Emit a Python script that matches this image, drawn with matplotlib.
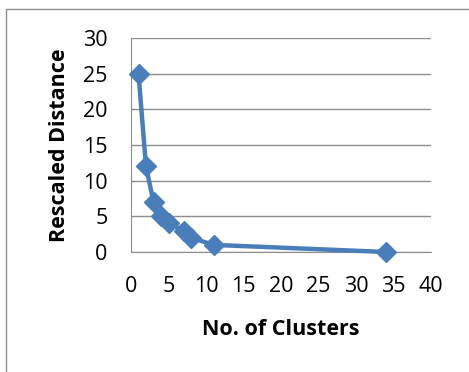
import matplotlib.pyplot as plt
from matplotlib.patches import Rectangle

# number of clusters vs rescaled distance (elbow)
clusters = [1, 2, 3, 4, 5, 7, 8, 11, 34]
distance = [25, 12, 7, 5, 4, 3, 2, 1, 0]
xticks = [0, 5, 10, 15, 20, 25, 30, 35, 40]
yticks = [0, 5, 10, 15, 20, 25, 30]

plt.rcParams['font.family'] = ['Open Sans', 'DejaVu Sans']

fig = plt.figure(figsize=(4.69, 3.72), dpi=100)
# outer chart frame (runs off the right and bottom edge)
fig.patches.append(Rectangle((6/469, -0.05), 1.2, 1 - 9/372 + 0.05,
                             transform=fig.transFigure, fill=False,
                             edgecolor='#8c8c8c', linewidth=1.0))

ax = fig.add_axes([131/469, 1 - 252/372, 300/469, 214/372])
ax.plot(clusters, distance, color='#4a7ebb', linewidth=3.2,
        marker='D', markersize=10, clip_on=False, zorder=3)

ax.set_xlim(0, 40)
ax.set_ylim(0, 30)
ax.set_xticks(xticks)
ax.set_yticks(yticks)
ax.grid(axis='y', color='#8c8c8c', linewidth=1.0)
ax.set_axisbelow(True)
for s in ['top', 'right']:
    ax.spines[s].set_visible(False)
for s in ['left', 'bottom']:
    ax.spines[s].set_color('#8c8c8c')
ax.tick_params(length=0, labelsize=15.5)
ax.tick_params(axis='x', pad=17)
ax.tick_params(axis='y', pad=17)

ax.set_xlabel('No. of Clusters', fontsize=15.5, fontweight='bold', labelpad=16)
ax.set_ylabel('Rescaled Distance', fontsize=15.5, fontweight='bold', labelpad=9)

fig.savefig('out.png', dpi=100)
